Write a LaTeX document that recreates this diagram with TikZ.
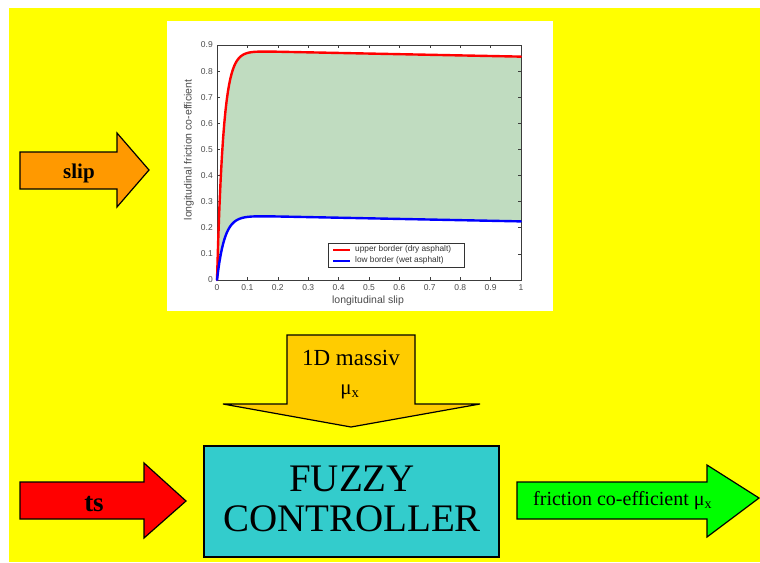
\documentclass[tikz,border=0pt]{standalone}
\usepackage{fontspec}
\setmainfont{Liberation Serif}
\newfontfamily\plotfont{Liberation Sans}
\definecolor{bgyellow}{RGB}{255,255,0}
\definecolor{sliporange}{RGB}{255,153,0}
\definecolor{tsred}{RGB}{255,0,0}
\definecolor{fuzzycyan}{RGB}{51,204,204}
\definecolor{outgreen}{RGB}{0,255,0}
\definecolor{massgold}{RGB}{255,204,0}
\definecolor{areagreen}{RGB}{192,220,192}
\definecolor{axisgray}{RGB}{60,60,60}
\definecolor{curvered}{RGB}{255,0,0}
\definecolor{curveblue}{RGB}{0,0,255}
\begin{document}
\begin{tikzpicture}[x=1pt,y=-1pt,
  blockarrow/.style={draw=black, line width=1.2pt, line join=miter},
  ticklbl/.style={font=\plotfont\fontsize{8.5}{10}\selectfont, text=black!70, inner sep=0pt},
  axlbl/.style={font=\plotfont\fontsize{10.5}{12}\selectfont, text=black!70, inner sep=0pt},
  leglbl/.style={font=\plotfont\fontsize{8.3}{10}\selectfont, text=black!80, inner sep=0pt, anchor=west},
  curve/.style={line width=2.4pt, line cap=round, line join=round}
]
\useasboundingbox (0,0) rectangle (760,562);
\fill[white] (0,0) rectangle (760,562);
\fill[bgyellow] (9,8) rectangle (760,562);

% plot panel
\fill[white] (167,21) rectangle (553,311);
\fill[areagreen]
  plot[domain=0:1,samples=250] ({217+304*\x},{280-261.1*(0.879*(1-exp(-48*\x))-0.0235*\x)})
  -- plot[domain=1:0,samples=250] ({217+304*\x},{280-261.1*(0.248*(1-exp(-41*\x))-0.0235*\x)})
  -- cycle;
\draw[axisgray, line width=0.8pt] (217,45) rectangle (521,280);
\foreach \v in {0,...,9} {
  \draw[axisgray, line width=0.6pt] (217,{280-26.11*\v}) -- (220,{280-26.11*\v});
  \draw[axisgray, line width=0.6pt] (521,{280-26.11*\v}) -- (518,{280-26.11*\v});
  \node[ticklbl, anchor=east] (yt\v) at (213,{280-26.11*\v}) {\ifnum\v=0 0\else 0.\v\fi};
}
\foreach \v in {0,...,10} {
  \draw[axisgray, line width=0.6pt] ({217+30.4*\v},280) -- ({217+30.4*\v},277);
  \draw[axisgray, line width=0.6pt] ({217+30.4*\v},45) -- ({217+30.4*\v},48);
  \node[ticklbl, anchor=north] (xt\v) at ({217+30.4*\v},284) {\ifnum\v=0 0\else\ifnum\v=10 1\else 0.\v\fi\fi};
}
\node[axlbl, rotate=90] (ylab) at (189,150) {longitudinal friction co-efficient};
\node[axlbl] (xlab) at (368,301) {longitudinal slip};
\draw[curve, curvered]
  plot[domain=0:1,samples=250] ({217+304*\x},{280-261.1*(0.879*(1-exp(-48*\x))-0.0235*\x)});
\draw[curve, curveblue]
  plot[domain=0:1,samples=250] ({217+304*\x},{280-261.1*(0.248*(1-exp(-41*\x))-0.0235*\x)});
% legend
\node[draw=black!80, fill=white, line width=0.6pt, minimum width=136pt, minimum height=24pt, inner sep=0pt] (legend) at (396,255) {};
\draw[curvered, line width=2pt] (333,249.5) -- (350,249.5);
\draw[curveblue, line width=2pt] (333,260.5) -- (350,260.5);
\node[leglbl] (leg1) at (355,249.5) {upper border (dry asphalt)};
\node[leglbl] (leg2) at (355,260.5) {low border (wet asphalt)};

% slip arrow
\draw[blockarrow, fill=sliporange] (20,152) -- (117,152) -- (117,133) -- (149,170) -- (117,207) -- (117,189) -- (20,189) -- cycle;
\node[font=\bfseries\fontsize{21}{24}\selectfont, anchor=base, inner sep=0pt] (sliptxt) at (79,178) {slip};

% ts arrow
\draw[blockarrow, fill=tsred] (20,482) -- (144,482) -- (144,463) -- (186,501) -- (144,538) -- (144,519) -- (20,519) -- cycle;
\node[font=\bfseries\fontsize{27}{30}\selectfont, anchor=base, inner sep=0pt] (tstxt) at (94,511) {ts};

% 1D massiv arrow
\draw[blockarrow, fill=massgold] (287,335) -- (415,335) -- (415,404) -- (480,404) -- (351,427) -- (223,404) -- (287,404) -- cycle;
\node[font=\fontsize{23}{26}\selectfont, anchor=base, inner sep=0pt] (masstxt) at (351,365) {1D massiv};
\node[font=\fontsize{21}{24}\selectfont, anchor=base, inner sep=0pt] (mutxt) at (350,394) {μ\textsubscript{x}};

% fuzzy controller
\node[draw=black, line width=1.2pt, fill=fuzzycyan, minimum width=295pt, minimum height=111pt, inner sep=0pt] (fuzzy) at (351.5,501.5) {};
\node[font=\fontsize{39}{40}\selectfont, anchor=base, inner sep=0pt] (fz1) at (352,491) {FUZZY};
\node[font=\fontsize{39}{40}\selectfont, anchor=base, inner sep=0pt] (fz2) at (352,531) {CONTROLLER};

% output arrow
\draw[blockarrow, fill=outgreen] (517,482) -- (707,482) -- (707,465) -- (759,498) -- (707,537) -- (707,519) -- (517,519) -- cycle;
\node[font=\fontsize{20}{22}\selectfont, anchor=base west, inner sep=0pt] (outtxt) at (533,505) {friction co-efficient μ\textsubscript{x}};
\end{tikzpicture}
\end{document}
